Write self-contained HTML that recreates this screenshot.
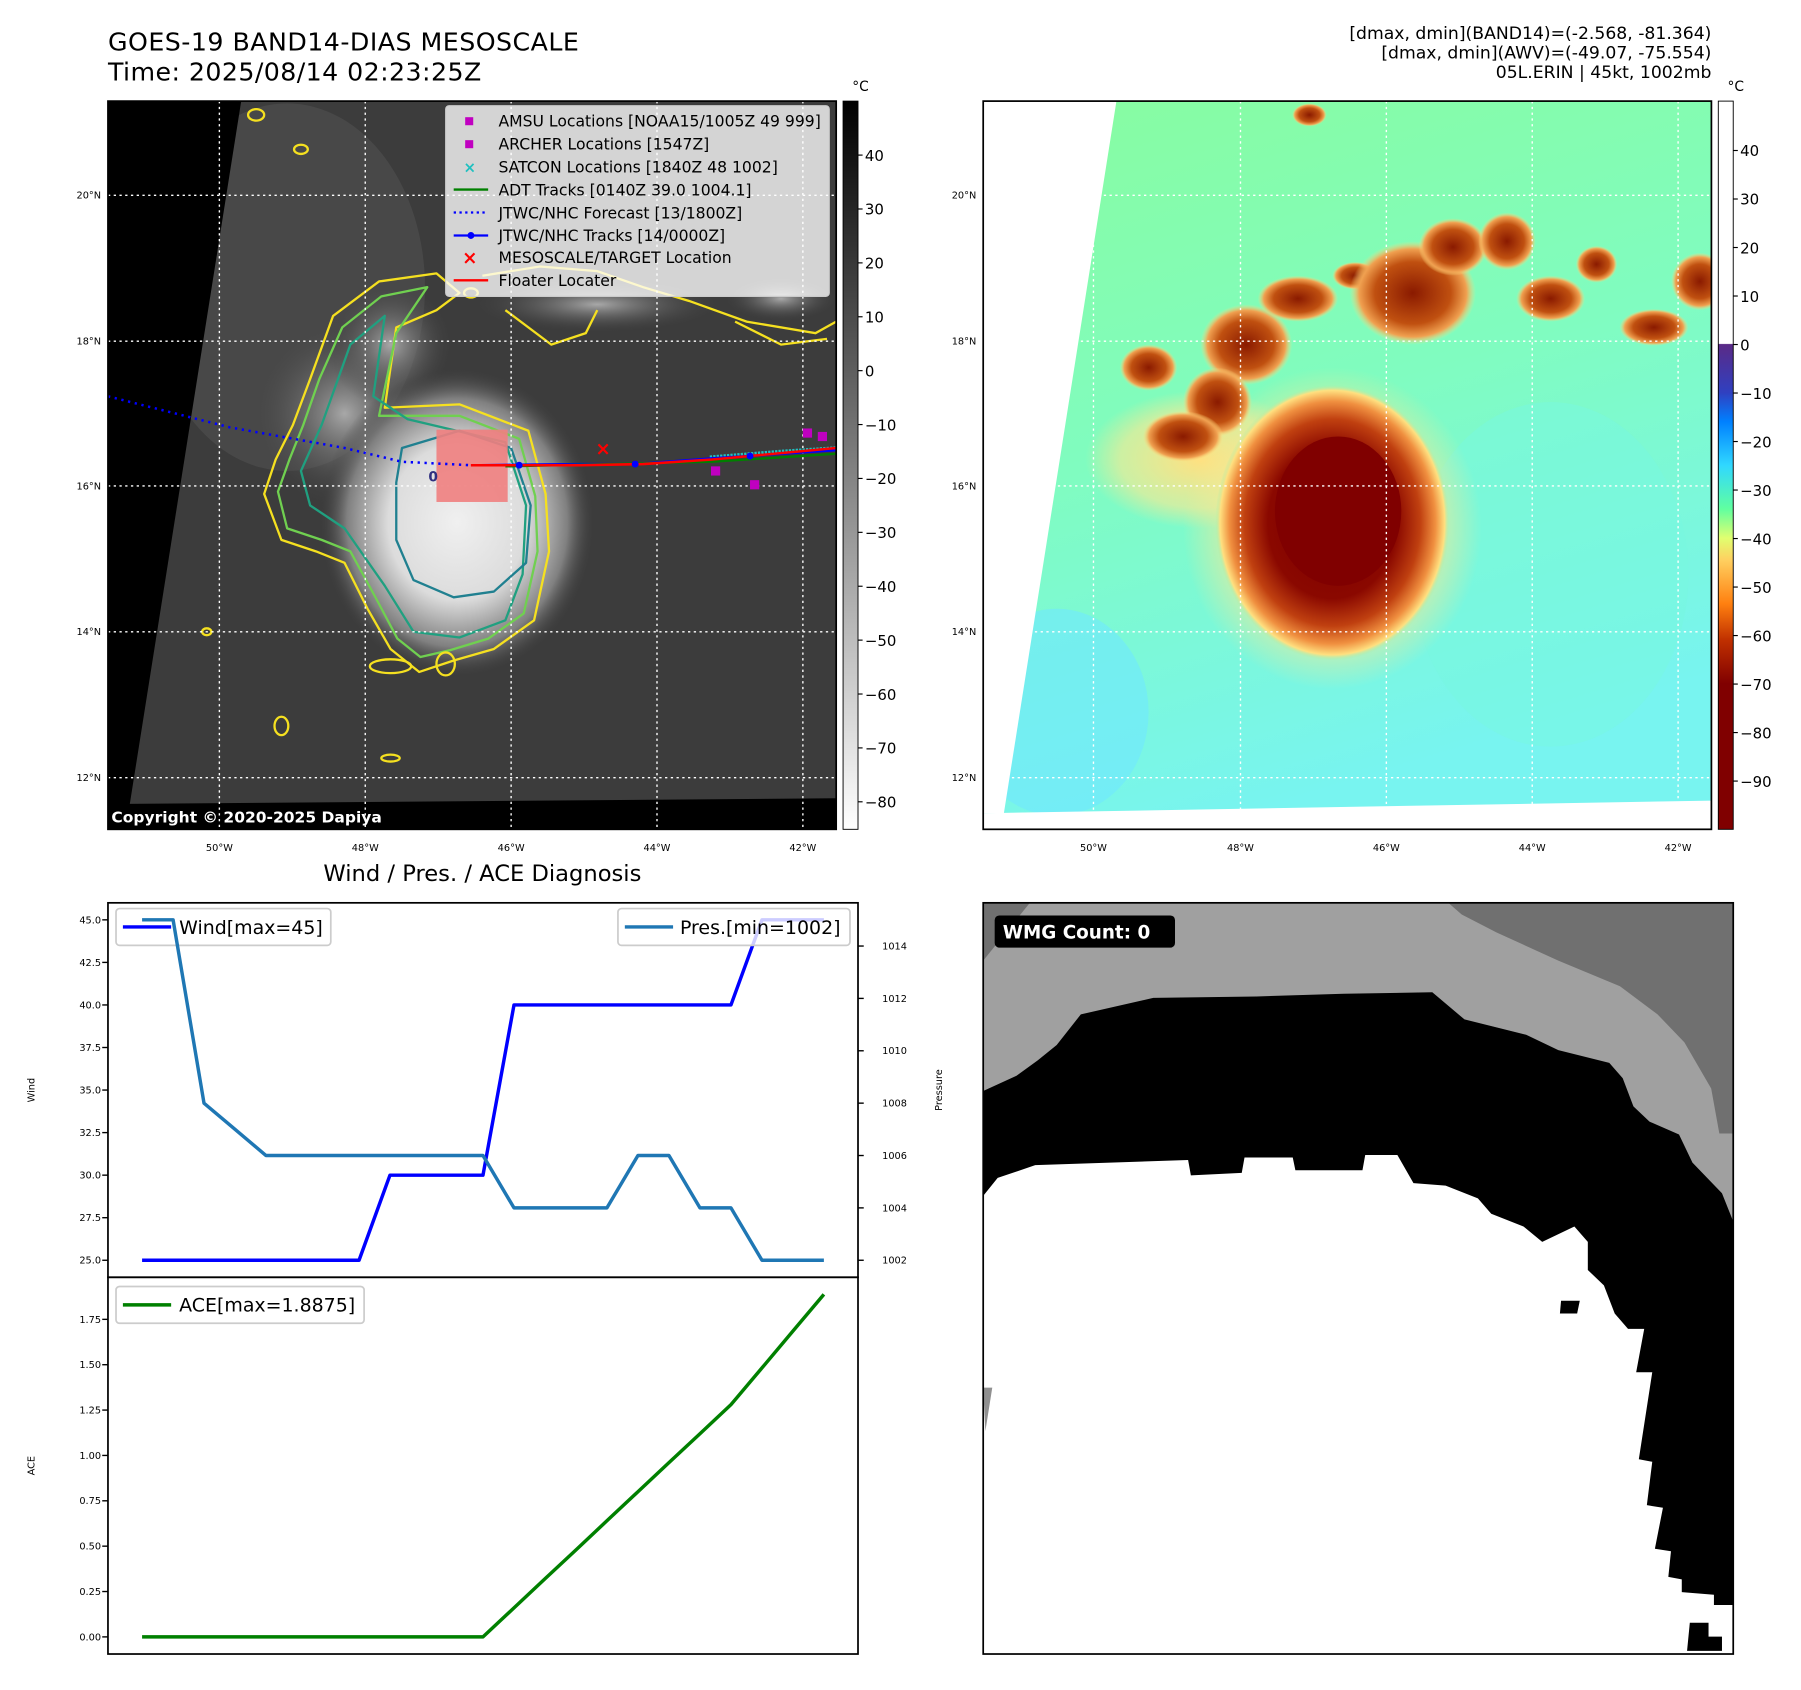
<!DOCTYPE html>
<html><head><meta charset="utf-8"><style>
html,body{margin:0;padding:0;background:#fff;}
svg{display:block;font-family:"DejaVu Sans","Liberation Sans",sans-serif;}
</style></head><body>
<svg id="fig" width="1801" height="1690" viewBox="0 0 1568 1471.3" xmlns="http://www.w3.org/2000/svg">
<defs>
<linearGradient id="cbL" x1="0" y1="0" x2="0" y2="1"><stop offset="0" stop-color="#000"/><stop offset="1" stop-color="#fff"/></linearGradient>
<linearGradient id="cbR" x1="0" y1="0" x2="0" y2="1">
<stop offset="0" stop-color="#fff"/><stop offset="0.333" stop-color="#fff"/>
<stop offset="0.334" stop-color="#5a2a86"/><stop offset="0.40" stop-color="#3040c0"/>
<stop offset="0.44" stop-color="#0080ff"/><stop offset="0.50" stop-color="#30d8ff"/>
<stop offset="0.56" stop-color="#60ffa0"/><stop offset="0.60" stop-color="#e0ff70"/>
<stop offset="0.63" stop-color="#ffd060"/><stop offset="0.69" stop-color="#ff8010"/>
<stop offset="0.74" stop-color="#c03000"/><stop offset="0.80" stop-color="#800000"/><stop offset="1" stop-color="#800000"/>
</linearGradient>
<radialGradient id="cloud" cx="0.5" cy="0.5" r="0.5"><stop offset="0" stop-color="#f0f0f0"/><stop offset="0.5" stop-color="#dcdcdc"/><stop offset="0.8" stop-color="#808080"/><stop offset="1" stop-color="#3c3c3c" stop-opacity="0"/></radialGradient>
<radialGradient id="lobe" cx="0.5" cy="0.5" r="0.5"><stop offset="0" stop-color="#a8a8a8"/><stop offset="1" stop-color="#3c3c3c" stop-opacity="0"/></radialGradient>
<radialGradient id="storm" cx="0.5" cy="0.5" r="0.5"><stop offset="0" stop-color="#800000"/><stop offset="0.55" stop-color="#8a0800"/><stop offset="0.75" stop-color="#c04010"/><stop offset="0.88" stop-color="#f09040"/><stop offset="0.96" stop-color="#ffe080"/><stop offset="1" stop-color="#9ff0b0" stop-opacity="0"/></radialGradient>
<radialGradient id="blob" cx="0.5" cy="0.5" r="0.5"><stop offset="0" stop-color="#8a1a00"/><stop offset="0.6" stop-color="#c05010"/><stop offset="0.85" stop-color="#f0a050"/><stop offset="1" stop-color="#ffe080" stop-opacity="0"/></radialGradient>
<radialGradient id="halo" cx="0.5" cy="0.5" r="0.5"><stop offset="0" stop-color="#ffe080"/><stop offset="0.7" stop-color="#ffe890" stop-opacity="0.6"/><stop offset="1" stop-color="#ffe890" stop-opacity="0"/></radialGradient>
<linearGradient id="rbg" x1="0" y1="0" x2="0.3" y2="1"><stop offset="0" stop-color="#88fca0"/><stop offset="0.5" stop-color="#80fcc0"/><stop offset="1" stop-color="#78f4f0"/></linearGradient>
<clipPath id="clipL"><rect x="94" y="88" width="634" height="634"/></clipPath>
<clipPath id="clipR"><rect x="856" y="88" width="634" height="634"/></clipPath>
<clipPath id="clipW"><rect x="856" y="786" width="653" height="654"/></clipPath>
</defs>

<text x="94" y="44" font-size="22" textLength="410">GOES-19 BAND14-DIAS MESOSCALE</text>
<text x="94" y="70" font-size="22" textLength="325">Time: 2025/08/14 02:23:25Z</text>
<g font-size="15" text-anchor="end">
<text x="1490" y="34">[dmax, dmin](BAND14)=(-2.568, -81.364)</text>
<text x="1490" y="51">[dmax, dmin](AWV)=(-49.07, -75.554)</text>
<text x="1490" y="68">05L.ERIN | 45kt, 1002mb</text>
</g>

<!-- LEFT MAP -->
<g clip-path="url(#clipL)">
<rect x="94" y="88" width="634" height="634" fill="#3c3c3c"/>
<ellipse cx="250" cy="250" rx="120" ry="160" fill="#484848"/>
<ellipse cx="300" cy="360" rx="85" ry="85" fill="url(#lobe)"/>
<ellipse cx="340" cy="300" rx="55" ry="55" fill="url(#lobe)"/>
<ellipse cx="520" cy="265" rx="110" ry="25" fill="url(#lobe)"/>
<ellipse cx="680" cy="260" rx="50" ry="20" fill="url(#lobe)"/>
<ellipse cx="398" cy="455" rx="120" ry="135" fill="url(#cloud)"/>
<path d="M290,275 L330,245 L380,238 L400,255 L380,270 L345,285 L335,355 L400,352 L460,375 L475,430 L478,480 L465,540 L430,565 L395,575 L365,585 L340,565 L320,530 L300,490 L275,480 L245,470 L230,430 L240,400 L255,370 L270,330 Z" fill="none" stroke="#f5e020" stroke-width="2" stroke-linejoin="round"/>
<path d="M298,285 L332,258 L372,250 L345,290 L330,362 L400,362 L452,382 L466,432 L468,480 L456,534 L425,556 L392,566 L366,572 L346,556 L328,522 L305,480 L280,470 L250,460 L242,428 L252,400 L264,370 L278,330 Z" fill="none" stroke="#70d050" stroke-width="2" stroke-linejoin="round"/>
<path d="M305,300 L335,275 L325,345 L355,365 L440,385 L458,440 L455,500 L440,540 L400,555 L360,550 L335,510 L300,460 L270,440 L262,410 L280,370 Z" fill="none" stroke="#20a080" stroke-width="2" stroke-linejoin="round"/>
<path d="M350,390 L400,375 L445,390 L462,440 L458,490 L430,515 L395,520 L360,505 L345,470 L345,420 Z" fill="none" stroke="#208090" stroke-width="2" stroke-linejoin="round"/>
<path d="M420,240 L470,232 L520,236 L560,250 L600,262 L650,280 L710,290 L728,280 M440,270 L480,300 L510,290 L520,270 M640,280 L680,300 L720,295" fill="none" stroke="#f5e020" stroke-width="2"/>
<g fill="none" stroke="#f5e020" stroke-width="2">
<ellipse cx="223" cy="100" rx="7" ry="5"/><ellipse cx="262" cy="130" rx="6" ry="4"/><ellipse cx="340" cy="580" rx="18" ry="6"/><ellipse cx="388" cy="578" rx="8" ry="10"/><ellipse cx="340" cy="660" rx="8" ry="3"/><ellipse cx="245" cy="632" rx="6" ry="8"/><ellipse cx="180" cy="550" rx="4" ry="3"/><ellipse cx="410" cy="255" rx="6" ry="4"/>
</g>
</g>
<g>
<polygon points="94,88 210,88 113,700 94,700" fill="#000"/>
<polygon points="94,700 728,695 728,722 94,722" fill="#000"/>
</g>
<g stroke="#fff" stroke-width="1.2" stroke-dasharray="2,3">
<line x1="191" y1="88" x2="191" y2="722"/><line x1="318" y1="88" x2="318" y2="722"/><line x1="445" y1="88" x2="445" y2="722"/><line x1="572" y1="88" x2="572" y2="722"/><line x1="699" y1="88" x2="699" y2="722"/>
<line x1="94" y1="170" x2="728" y2="170"/><line x1="94" y1="297" x2="728" y2="297"/><line x1="94" y1="423" x2="728" y2="423"/><line x1="94" y1="550" x2="728" y2="550"/><line x1="94" y1="677" x2="728" y2="677"/>
</g>
<g clip-path="url(#clipL)">
<rect x="380" y="374" width="62" height="63" fill="#f08080" opacity="0.9"/>
<polyline points="94,345 200,372 300,390 350,402 410,405" fill="none" stroke="#0000ff" stroke-width="2.2" stroke-dasharray="2,4"/>
<polyline points="618,398 680,393 728,390" fill="none" stroke="#20c0c0" stroke-width="3" stroke-dasharray="2,1"/>
<polyline points="410,405 505,404 553,404 620,399 728,392" fill="none" stroke="#0000ff" stroke-width="2"/>
<polyline points="440,406 620,402 728,395" fill="none" stroke="#008000" stroke-width="2"/>
<polyline points="410,405 505,405 560,404 620,400 728,390" fill="none" stroke="#ff0000" stroke-width="2.2"/>
<circle cx="452" cy="405" r="3" fill="#0000ff"/><circle cx="553" cy="404" r="3" fill="#0000ff"/><circle cx="653" cy="397" r="3" fill="#0000ff"/>
<text x="525" y="396" fill="#ff0000" font-size="16" font-weight="bold" text-anchor="middle">×</text>
<g fill="#c000c0"><rect x="699" y="373" width="8" height="8"/><rect x="712" y="376" width="8" height="8"/><rect x="619" y="406" width="8" height="8"/><rect x="653" y="418" width="8" height="8"/></g>
<text x="373" y="419" font-size="12" font-weight="bold" fill="#303080">0</text>
</g>
<g>
<rect x="388" y="92" width="334" height="166" rx="3" fill="#fff" fill-opacity="0.78" stroke="#ccc"/>
<g font-size="13.6">
<rect x="405" y="102" width="7" height="7" fill="#c000c0"/><text x="434" y="110">AMSU Locations [NOAA15/1005Z 49 999]</text>
<rect x="405" y="122" width="7" height="7" fill="#c000c0"/><text x="434" y="130">ARCHER Locations [1547Z]</text>
<text x="409" y="150" fill="#20c0c0" font-size="13" font-weight="bold" text-anchor="middle">×</text><text x="434" y="150">SATCON Locations [1840Z 48 1002]</text>
<line x1="395" y1="165" x2="425" y2="165" stroke="#008000" stroke-width="2"/><text x="434" y="170">ADT Tracks [0140Z 39.0 1004.1]</text>
<line x1="395" y1="185" x2="425" y2="185" stroke="#0000ff" stroke-width="2" stroke-dasharray="2,3"/><text x="434" y="190">JTWC/NHC Forecast [13/1800Z]</text>
<line x1="395" y1="205" x2="425" y2="205" stroke="#0000ff" stroke-width="2"/><circle cx="410" cy="205" r="3" fill="#0000ff"/><text x="434" y="210">JTWC/NHC Tracks [14/0000Z]</text>
<text x="409" y="230" fill="#ff0000" font-size="16" font-weight="bold" text-anchor="middle">×</text><text x="434" y="229">MESOSCALE/TARGET Location</text>
<line x1="395" y1="244" x2="425" y2="244" stroke="#ff0000" stroke-width="2"/><text x="434" y="249">Floater Locater</text>
</g></g>
<rect x="94" y="88" width="634" height="634" fill="none" stroke="#000" stroke-width="1.5"/>
<text x="97" y="716" fill="#fff" font-size="13.5" font-weight="bold">Copyright © 2020-2025 Dapiya</text>
<g font-size="8.5" text-anchor="end">
<text x="88" y="173">20°N</text><text x="88" y="300">18°N</text><text x="88" y="426">16°N</text><text x="88" y="553">14°N</text><text x="88" y="680">12°N</text></g>
<g font-size="8.5" text-anchor="middle">
<text x="191" y="741">50°W</text><text x="318" y="741">48°W</text><text x="445" y="741">46°W</text><text x="572" y="741">44°W</text><text x="699" y="741">42°W</text></g>
<g>
<rect x="734" y="88" width="13" height="634" fill="url(#cbL)" stroke="#000" stroke-width="0.8"/>
<text x="742" y="79" font-size="12">°C</text>
<g id="cbLticks" font-size="13"></g></g>

<!-- RIGHT MAP -->
<g clip-path="url(#clipR)">
<rect x="856" y="88" width="634" height="634" fill="url(#rbg)"/>
<ellipse cx="920" cy="620" rx="80" ry="90" fill="#70e8ff" opacity="0.6"/>
<ellipse cx="1350" cy="500" rx="120" ry="150" fill="#78f8e0" opacity="0.5"/>
<ellipse cx="1045" cy="400" rx="100" ry="60" fill="url(#halo)"/>
<ellipse cx="1160" cy="460" rx="130" ry="140" fill="url(#halo)"/>
<ellipse cx="1160" cy="455" rx="102" ry="120" fill="url(#storm)"/>
<ellipse cx="1165" cy="445" rx="55" ry="65" fill="#800000"/>
<g fill="url(#blob)">
<ellipse cx="1085" cy="300" rx="40" ry="35"/><ellipse cx="1060" cy="350" rx="30" ry="30"/><ellipse cx="1030" cy="380" rx="35" ry="22"/><ellipse cx="1130" cy="260" rx="35" ry="20"/><ellipse cx="1180" cy="240" rx="20" ry="12"/>
<ellipse cx="1230" cy="255" rx="55" ry="45"/><ellipse cx="1265" cy="215" rx="30" ry="25"/><ellipse cx="1312" cy="210" rx="25" ry="25"/><ellipse cx="1350" cy="260" rx="30" ry="20"/><ellipse cx="1390" cy="230" rx="18" ry="16"/><ellipse cx="1440" cy="285" rx="30" ry="16"/><ellipse cx="1480" cy="245" rx="25" ry="25"/><ellipse cx="1140" cy="100" rx="15" ry="10"/><ellipse cx="1000" cy="320" rx="25" ry="20"/>
</g>
</g>
<g fill="#fff">
<polygon points="856,88 972,88 874,708 856,708"/>
<polygon points="856,708 1490,697 1490,722 856,722"/>
</g>
<g stroke="#fff" stroke-width="1.2" stroke-dasharray="2,3">
<line x1="952" y1="88" x2="952" y2="722"/><line x1="1080" y1="88" x2="1080" y2="722"/><line x1="1207" y1="88" x2="1207" y2="722"/><line x1="1334" y1="88" x2="1334" y2="722"/><line x1="1461" y1="88" x2="1461" y2="722"/>
<line x1="856" y1="170" x2="1490" y2="170"/><line x1="856" y1="297" x2="1490" y2="297"/><line x1="856" y1="423" x2="1490" y2="423"/><line x1="856" y1="550" x2="1490" y2="550"/><line x1="856" y1="677" x2="1490" y2="677"/>
</g>
<rect x="856" y="88" width="634" height="634" fill="none" stroke="#000" stroke-width="1.5"/>
<g font-size="8.5" text-anchor="end">
<text x="850" y="173">20°N</text><text x="850" y="300">18°N</text><text x="850" y="426">16°N</text><text x="850" y="553">14°N</text><text x="850" y="680">12°N</text></g>
<g font-size="8.5" text-anchor="middle">
<text x="952" y="741">50°W</text><text x="1080" y="741">48°W</text><text x="1207" y="741">46°W</text><text x="1334" y="741">44°W</text><text x="1461" y="741">42°W</text></g>
<g>
<rect x="1496" y="88" width="13" height="634" fill="url(#cbR)" stroke="#000" stroke-width="0.8"/>
<text x="1504" y="79" font-size="12">°C</text>
<g id="cbRticks" font-size="13"></g></g>

<!-- WMG -->
<g id="wmg" clip-path="url(#clipW)">
<rect x="856" y="786" width="653" height="654" fill="#a0a0a0"/>
</g>
<rect x="856" y="786" width="653" height="654" fill="none" stroke="#000" stroke-width="1.5"/>
<g>
<rect x="866" y="797" width="157" height="28" rx="4" fill="#000"/>
<text x="873" y="817" font-size="16" font-weight="bold" fill="#fff">WMG Count: 0</text></g>

<!-- DIAGNOSIS CHART -->
<text x="420" y="767" font-size="19.7" text-anchor="middle">Wind / Pres. / ACE Diagnosis</text>
<g id="chart"></g>
</svg>
<script>
const NS="http://www.w3.org/2000/svg";
const wind=[25,25,25,25,25,25,25,25,30,30,30,30,40,40,40,40,40,40,40,40,45,45,45];
const pres=[1015,1015,1008,1007,1006,1006,1006,1006,1006,1006,1006,1006,1004,1004,1004,1004,1006,1006,1004,1004,1002,1002,1002];
const ace=[0,0,0,0,0,0,0,0,0,0,0,0,0.16,0.32,0.48,0.64,0.8,0.96,1.12,1.28,1.4825,1.685,1.8875];
const windTicks=["25.0","27.5","30.0","32.5","35.0","37.5","40.0","42.5","45.0"];
const presTicks=["1002","1004","1006","1008","1010","1012","1014"];
const aceTicks=["0.00","0.25","0.50","0.75","1.00","1.25","1.50","1.75"];
const cbLTicks=[40,30,20,10,0,-10,-20,-30,-40,-50,-60,-70,-80];
const cbRTicks=[40,30,20,10,0,-10,-20,-30,-40,-50,-60,-70,-80,-90];

function mk(tag,attrs,parent){const e=document.createElementNS(NS,tag);for(const k in attrs)e.setAttribute(k,attrs[k]);parent.appendChild(e);return e;}
function lim(arr){const lo=Math.min(...arr),hi=Math.max(...arr),p=(hi-lo)*0.05;return [lo-p,hi+p];}
const L=94,R=747,T=786,M=1112,B=1440;
const n=wind.length,xp=(n-1)*0.05;
function xS(i){return L+(i+xp)/((n-1)+2*xp)*(R-L);}
const wl=lim(wind),pl=lim(pres),al=lim(ace);
function wY(v){return T+(wl[1]-v)/(wl[1]-wl[0])*(M-T);}
function pY(v){return T+(pl[1]-v)/(pl[1]-pl[0])*(M-T);}
function aY(v){return M+(al[1]-v)/(al[1]-al[0])*(B-M);}
const g=document.getElementById('chart');
function line(arr,fy,color,name){const pts=arr.map((v,i)=>xS(i).toFixed(1)+','+fy(v).toFixed(1)).join(' ');
 const p=mk('polyline',{points:pts,fill:'none',stroke:color,'stroke-width':3,'stroke-linejoin':'round'},g);
 
 }
function legend(x,y,w,label,color,name,tx){const lg=mk('g',{},g);
 
 
 mk('rect',{x:x,y:y,width:w,height:32,rx:3,fill:'#fff','fill-opacity':0.8,stroke:'#ccc','stroke-width':1.5},lg);
 mk('line',{x1:x+6,y1:y+16,x2:x+48,y2:y+16,stroke:color,'stroke-width':3},lg);
 const t=mk('text',{x:x+tx,y:y+22,'font-size':16.5},lg);t.textContent=label;}
mk('rect',{x:L,y:T,width:R-L,height:M-T,fill:'#fff'},g);
mk('rect',{x:L,y:M,width:R-L,height:B-M,fill:'#fff'},g);
line(wind,wY,'#0000ff','wind-line');
legend(101,791,187,'Wind[max=45]','#0000ff','wind-legend',55);
line(pres,pY,'#1f77b4','pressure-line');
legend(538,791,202,'Pres.[min=1002]','#1f77b4','pressure-legend',54);
line(ace,aY,'#008000','ace-line');
legend(101,1120,216,'ACE[max=1.8875]','#008000','ace-legend',55);
mk('rect',{x:L,y:T,width:R-L,height:M-T,fill:'none',stroke:'#000','stroke-width':1.5},g);
mk('rect',{x:L,y:M,width:R-L,height:B-M,fill:'none',stroke:'#000','stroke-width':1.5},g);
function tick(x1,x2,y,label,tx,anchor,name){
 mk('line',{x1:x1,x2:x2,y1:y,y2:y,stroke:'#000','stroke-width':1.2},g);
 const t=mk('text',{x:tx,y:y+3,'font-size':8.5,'text-anchor':anchor},g);t.textContent=label;
 
 }
windTicks.forEach(s=>tick(L-5,L,wY(parseFloat(s)),s,L-6,'end','wind-tick'));
presTicks.forEach(s=>tick(R,R+5,pY(parseFloat(s)),s,R+21,'start','pressure-tick'));
aceTicks.forEach(s=>tick(L-5,L,aY(parseFloat(s)),s,L-6,'end','ace-tick'));
function vlabel(x,y,s,name){const t=mk('text',{x:x,y:y,'font-size':8.5,'text-anchor':'middle',transform:'rotate(-90 '+x+' '+y+')'},g);t.textContent=s;
 
 }
vlabel(30,949,'Wind','wind-axis-title');vlabel(820,949,'Pressure','pressure-axis-title');vlabel(30,1276,'ACE','ace-axis-title');
function cb(id,ticks,y40,per,x){const cg=document.getElementById(id);
 ticks.forEach(v=>{const y=y40+(40-v)*per;
  mk('line',{x1:x,x2:x+4,y1:y,y2:y,stroke:'#000'},cg);
  const t=mk('text',{x:x+6,y:y+5},cg);t.textContent=(v<0?'\u2212'+(-v):String(v));
  
  });}
cb('cbLticks',cbLTicks,135,4.692,747);
cb('cbRticks',cbRTicks,131,4.223,1509);
const W=document.getElementById('wmg');
function zc(p){return p.map(([x,y])=>(856+(x-43)/1398*653).toFixed(1)+','+(786+(y-27)/1469*654).toFixed(1)).join(' ');}
function poly(pts,fill,name){const e=mk('polygon',{points:zc(pts),fill:fill},W);
 
 }
poly([[43,27],[130,27],[43,140]],'#707070','wmg-dark-corner');
poly([[910,27],[1441,27],[1441,478],[1415,478],[1400,390],[1350,300],[1300,245],[1230,190],[1115,140],[1000,85],[935,50]],'#707070','wmg-dark-region');
poly([[43,395],[105,365],[145,335],[180,305],[225,245],[360,213],[552,210],[715,205],[880,202],[940,255],[1055,285],[1115,315],[1210,340],[1235,370],[1255,425],[1285,455],[1340,480],[1365,535],[1420,595],[1441,650],[1441,1496],[43,1496]],'#000','wmg-black-band');
poly([[43,600],[70,565],[140,540],[425,530],[430,560],[525,555],[530,525],[620,525],[625,550],[750,550],[755,520],[815,520],[845,575],[905,580],[965,605],[990,635],[1050,660],[1085,690],[1145,660],[1170,690],[1170,745],[1200,775],[1220,830],[1245,860],[1275,860],[1260,945],[1290,945],[1265,1115],[1290,1120],[1280,1205],[1310,1210],[1295,1290],[1325,1295],[1320,1345],[1345,1350],[1345,1375],[1405,1380],[1405,1400],[1441,1400],[1441,1496],[43,1496]],'#fff','wmg-white-core');
poly([[1360,1435],[1395,1435],[1395,1462],[1420,1462],[1420,1490],[1355,1490]],'#000','wmg-black-blob');
poly([[1120,805],[1155,805],[1150,830],[1118,830]],'#000','wmg-black-dot');
poly([[43,975],[60,975],[47,1060]],'#909090','wmg-gray-sliver');
</script>
</body></html>
